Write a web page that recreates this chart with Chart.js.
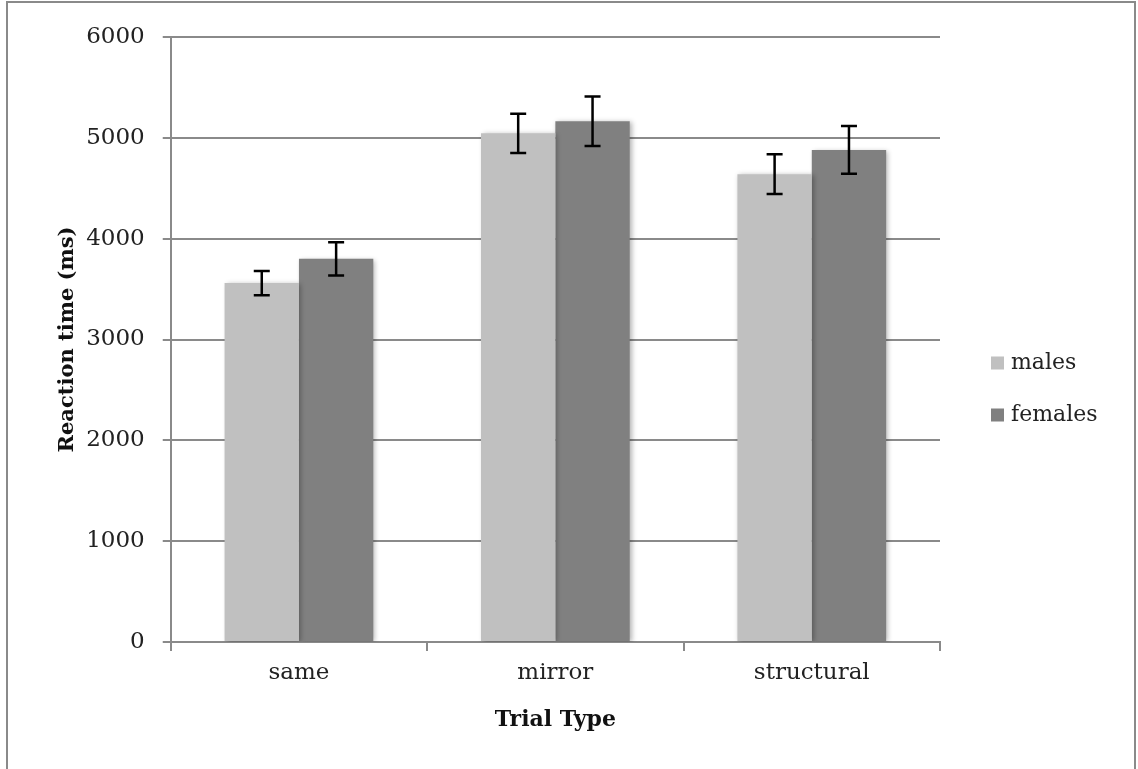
<!DOCTYPE html>
<html>
<head>
<meta charset="utf-8">
<script src="https://cdn.jsdelivr.net/npm/chart.js@4.4.0/dist/chart.umd.min.js"></script>
<style>
  html, body { margin: 0; padding: 0; background: #fff; }
  #wrap { position: absolute; left: 0; top: 0; width: 1138px; height: 769px; }
  #frame { position: absolute; left: 6px; top: 1px; width: 1126px; height: 780px; border: 2px solid #8a8a8a; }
</style>
</head>
<body>
<div id="frame"></div>
<div id="wrap"><canvas id="chart" width="1138" height="769"></canvas></div>
<script>
// values
const trialTypes = ['same', 'mirror', 'structural'];
const malesRT = [3560, 5045, 4640];
const femalesRT = [3800, 5165, 4880];
const malesErr = [120, 195, 198];
const femalesErr = [165, 245, 237];
const yTicks = [0, 1000, 2000, 3000, 4000, 5000, 6000];

const FONT = '"DejaVu Serif", "Liberation Serif", serif';

// error bars drawn through the y scale
const errorBars = {
  id: 'errorBars',
  afterDatasetsDraw(chart) {
    const { ctx, scales: { y } } = chart;
    const errs = [malesErr, femalesErr];
    ctx.save();
    ctx.strokeStyle = '#000';
    ctx.lineWidth = 2.5;
    chart.data.datasets.forEach((ds, i) => {
      chart.getDatasetMeta(i).data.forEach((bar, j) => {
        const v = ds.data[j], e = errs[i][j];
        const top = y.getPixelForValue(v + e);
        const bot = y.getPixelForValue(v - e);
        const x = bar.x;
        ctx.beginPath();
        ctx.moveTo(x, top); ctx.lineTo(x, bot);
        ctx.moveTo(x - 8, top); ctx.lineTo(x + 8, top);
        ctx.moveTo(x - 8, bot); ctx.lineTo(x + 8, bot);
        ctx.stroke();
      });
    });
    ctx.restore();
  }
};

// soft shadow behind the bars
const barShadow = {
  id: 'barShadow',
  beforeDatasetsDraw(chart) {
    const ctx = chart.ctx;
    ctx.save();
    ctx.shadowColor = 'rgba(0,0,0,0.3)';
    ctx.shadowBlur = 5;
    ctx.shadowOffsetX = 2;
    ctx.shadowOffsetY = 1;
  },
  afterDatasetsDraw(chart) {
    chart.ctx.restore();
  }
};

// legend to the right of the plot, Excel style
const sideLegend = {
  id: 'sideLegend',
  afterDraw(chart) {
    const ctx = chart.ctx;
    const x0 = chart.chartArea.right + 51;
    const yMid = (chart.chartArea.top + chart.chartArea.bottom) / 2;
    ctx.save();
    ctx.font = '22px ' + FONT;
    ctx.textBaseline = 'middle';
    chart.data.datasets.forEach((ds, i) => {
      const cy = yMid + 50 + (i - 0.5) * 52;
      ctx.fillStyle = ds.backgroundColor;
      ctx.fillRect(x0, cy - 7, 13, 13);
      ctx.fillStyle = '#222';
      ctx.fillText(ds.label, x0 + 20, cy);
    });
    ctx.restore();
  }
};

new Chart(document.getElementById('chart'), {
  type: 'bar',
  data: {
    labels: trialTypes,
    datasets: [
      { label: 'males', data: malesRT, backgroundColor: '#c0c0c0' },
      { label: 'females', data: femalesRT, backgroundColor: '#808080' }
    ]
  },
  options: {
    responsive: false,
    animation: false,
    devicePixelRatio: 1,
    categoryPercentage: 0.58,
    barPercentage: 1.0,
    layout: { padding: { left: 51, top: 37, right: 198, bottom: 32 } },
    plugins: {
      tooltip: { enabled: false },
      legend: { display: false }
    },
    scales: {
      x: {
        grid: { display: true, drawOnChartArea: false, color: '#8a8a8a', lineWidth: 2, tickLength: 9 },
        border: { color: '#8a8a8a', width: 2 },
        ticks: { font: { family: FONT, size: 23 }, color: '#222', padding: 8 },
        title: { display: true, text: 'Trial Type', font: { family: FONT, size: 22, weight: 'bold' }, color: '#111', padding: { top: 12 } }
      },
      y: {
        min: 0,
        max: 6000,
        afterBuildTicks(axis) { axis.ticks = yTicks.map(v => ({ value: v })); },
        grid: { color: '#8a8a8a', lineWidth: 2, tickLength: 8 },
        border: { color: '#8a8a8a', width: 2 },
        ticks: { font: { family: FONT, size: 23 }, color: '#222', padding: 18, callback: v => String(v) },
        title: { display: true, text: 'Reaction time (ms)', font: { family: FONT, size: 21, weight: 'bold' }, color: '#111', padding: { bottom: -12 } }
      }
    }
  },
  plugins: [barShadow, errorBars, sideLegend]
});
</script>
</body>
</html>
